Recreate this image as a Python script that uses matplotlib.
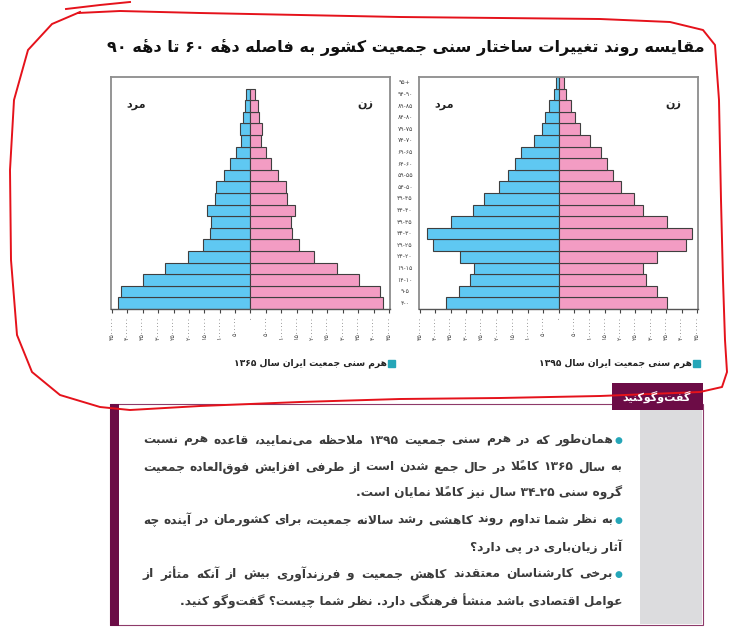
import numpy as np
import matplotlib
matplotlib.use("Agg")
import matplotlib.pyplot as plt
import matplotlib.transforms as mtransforms
from matplotlib.patches import Rectangle
from matplotlib.lines import Line2D

plt.rcParams['font.family'] = ['DejaVu Sans']

# ---------------- data ----------------
age_labels = ['۴-۰', '۹-۵', '۱۴-۱۰', '۱۹-۱۵', '۲۴-۲۰', '۲۹-۲۵', '۳۴-۳۰', '۳۹-۳۵',
              '۴۴-۴۰', '۴۹-۴۵', '۵۴-۵۰', '۵۹-۵۵', '۶۴-۶۰', '۶۹-۶۵', '۷۴-۷۰',
              '۷۹-۷۵', '۸۴-۸۰', '۸۹-۸۵', '۹۴-۹۰', '۹۵+']

# millions, from 0-4 upwards
male_1365 = [4.30, 4.19, 3.48, 2.78, 2.03, 1.55, 1.32, 1.27, 1.40, 1.16,
             1.11, 0.86, 0.65, 0.48, 0.32, 0.35, 0.25, 0.19, 0.13]
female_1365 = [4.31, 4.22, 3.51, 2.81, 2.05, 1.57, 1.34, 1.30, 1.43, 1.19,
               1.15, 0.90, 0.67, 0.51, 0.34, 0.38, 0.26, 0.23, 0.16]

male_1395 = [3.64, 3.24, 2.88, 2.73, 3.20, 4.07, 4.28, 3.50, 2.78, 2.42,
             1.94, 1.64, 1.42, 1.22, 0.80, 0.55, 0.44, 0.31, 0.15, 0.09]
female_1395 = [3.51, 3.19, 2.83, 2.75, 3.19, 4.13, 4.35, 3.51, 2.76, 2.46,
               2.04, 1.78, 1.58, 1.38, 1.03, 0.71, 0.53, 0.41, 0.24, 0.19]

x_ticks = np.arange(-4.5, 4.51, 0.5)

title = 'مقایسه روند تغییرات ساختار سنی جمعیت کشور به فاصله دههٔ ۶۰ تا دههٔ ۹۰'
caption_1365 = 'هرم سنی جمعیت ایران سال ۱۳۶۵'
caption_1395 = 'هرم سنی جمعیت ایران سال ۱۳۹۵'
box_tag = 'گفت‌وگوکنید'
# (text, has bullet, justified)
body_lines = [
    ('همان‌طور که در هرم سنی جمعیت ۱۳۹۵ ملاحظه می‌نمایید، قاعده هرم نسبت', True, True),
    ('به سال ۱۳۶۵ کاملاً در حال جمع شدن است از طرفی افزایش فوق‌العاده جمعیت', False, True),
    ('گروه سنی ۲۵ـ۳۴ سال نیز کاملاً نمایان است.', False, False),
    ('به نظر شما تداوم روند کاهشی رشد سالانه جمعیت، برای کشورمان در آینده چه', True, True),
    ('آثار زیان‌باری در پی دارد؟', False, False),
    ('برخی کارشناسان معتقدند کاهش جمعیت و فرزندآوری بیش از آنکه متأثر از', True, True),
    ('عوامل اقتصادی باشد منشأ فرهنگی دارد. نظر شما چیست؟ گفت‌وگو کنید.', False, False),
]

BLUE = '#5fc8f2'
PINK = '#f39cc3'
TEAL = '#25a6b8'
MAROON = '#6c0c46'

# ---------------- simple persian shaping ----------------
_forms = [('ء', 0xFE80, 1), ('آ', 0xFE81, 2), ('أ', 0xFE83, 2), ('ؤ', 0xFE85, 2),
          ('إ', 0xFE87, 2), ('ئ', 0xFE89, 4), ('ا', 0xFE8D, 2), ('ب', 0xFE8F, 4),
          ('ة', 0xFE93, 2), ('ت', 0xFE95, 4), ('ث', 0xFE99, 4), ('ج', 0xFE9D, 4),
          ('ح', 0xFEA1, 4), ('خ', 0xFEA5, 4), ('د', 0xFEA9, 2), ('ذ', 0xFEAB, 2),
          ('ر', 0xFEAD, 2), ('ز', 0xFEAF, 2), ('س', 0xFEB1, 4), ('ش', 0xFEB5, 4),
          ('ص', 0xFEB9, 4), ('ض', 0xFEBD, 4), ('ط', 0xFEC1, 4), ('ظ', 0xFEC5, 4),
          ('ع', 0xFEC9, 4), ('غ', 0xFECD, 4), ('ف', 0xFED1, 4), ('ق', 0xFED5, 4),
          ('ك', 0xFED9, 4), ('ل', 0xFEDD, 4), ('م', 0xFEE1, 4), ('ن', 0xFEE5, 4),
          ('ه', 0xFEE9, 4), ('و', 0xFEED, 2), ('ى', 0xFEEF, 2), ('ي', 0xFEF1, 4),
          ('پ', 0xFB56, 4), ('چ', 0xFB7A, 4), ('ژ', 0xFB8A, 2), ('ک', 0xFB8E, 4),
          ('گ', 0xFB92, 4), ('ی', 0xFBFC, 4)]
FORMS = {c: [chr(s + i) for i in range(n)] for c, s, n in _forms}
LAM_ALEF = {'آ': '\uFEF5', 'أ': '\uFEF7', 'إ': '\uFEF9', 'ا': '\uFEFB'}
MARKS = set('\u064b\u064c\u064d\u064e\u064f\u0650\u0651\u0652\u0654\u0670')
DIGITS = set('۰۱۲۳۴۵۶۷۸۹0123456789')


def shape(text):
    ch = list(text)
    n = len(ch)

    def neighbour(i, step):
        j = i + step
        while 0 <= j < n and ch[j] in MARKS:
            j += step
        return ch[j] if 0 <= j < n else None

    out = []
    i = 0
    while i < n:
        c = ch[i]
        if c not in FORMS:
            if c != '\u200c':
                out.append(c)
            i += 1
            continue
        prev = neighbour(i, -1)
        nxt = neighbour(i, 1)
        jp = prev in FORMS and len(FORMS[prev]) == 4
        if c == 'ل' and i + 1 < n and ch[i + 1] in LAM_ALEF:
            base = ord(LAM_ALEF[ch[i + 1]])
            out.append(chr(base + 1) if jp else chr(base))
            i += 2
            continue
        jn = len(FORMS[c]) == 4 and nxt in FORMS and nxt != 'ء'
        if jp and jn:
            k = 3
        elif jp:
            k = 1
        elif jn:
            k = 2
        else:
            k = 0
        out.append(FORMS[c][k])
        i += 1

    # visual order: reverse clusters, keep numbers left to right
    clusters = []
    for c in out:
        if c in MARKS and clusters:
            clusters[-1] += c
        else:
            clusters.append(c)
    clusters.reverse()
    res, run = [], []
    for c in clusters:
        if c[0] in DIGITS:
            run.append(c)
        else:
            res.extend(reversed(run))
            run = []
            res.append(c)
    res.extend(reversed(run))
    return ''.join(res)


def fa(num):
    return str(num).translate(str.maketrans('0123456789', '۰۱۲۳۴۵۶۷۸۹'))


W, H = 742, 638


def fx(x):
    return x / W


def fy(y):
    return 1 - y / H


fig = plt.figure(figsize=(W / 100, H / 100), dpi=100)
fig.patch.set_facecolor('white')

# ---------------- pyramids ----------------
tick_labels = [fa(int(round(abs(v) * 1e6))) for v in x_ticks]


def pyramid(ax, male, female):
    y = np.arange(len(male))
    ax.barh(y, -np.array(male), height=1.0, color=BLUE, edgecolor='#3f3f3f', linewidth=0.8)
    ax.barh(y, np.array(female), height=1.0, color=PINK, edgecolor='#3f3f3f', linewidth=0.8)
    ax.set_xlim(-4.53, 4.53)
    ax.set_ylim(-0.5, len(age_labels) - 0.5)
    ax.set_yticks([])
    ax.set_xticks(x_ticks)
    ax.set_xticklabels(tick_labels, rotation=90, fontsize=4.6, color='#444444')
    ax.tick_params(axis='x', direction='out', length=3, width=0.8, color='#444444', pad=2)
    for s in ['top', 'left', 'right']:
        ax.spines[s].set_color('#8c8c8c')
        ax.spines[s].set_linewidth(1.3)
    ax.spines['bottom'].set_color('#555555')
    ax.spines['bottom'].set_linewidth(1.0)
    ax.text(0.09, 0.88, shape('مرد'), transform=ax.transAxes, ha='center', va='center',
            fontsize=8, fontweight='bold', color='#222222')
    ax.text(0.91, 0.88, shape('زن'), transform=ax.transAxes, ha='center', va='center',
            fontsize=8, fontweight='bold', color='#222222')


axL = fig.add_axes([fx(111), fy(309), 279 / W, 232 / H])
axR = fig.add_axes([fx(419), fy(309), 279 / W, 232 / H])
pyramid(axL, male_1365, female_1365)
pyramid(axR, male_1395, female_1395)

tr = mtransforms.blended_transform_factory(fig.transFigure, axL.transData)
for i, lab in enumerate(age_labels):
    fig.text(fx(405), i, lab, transform=tr, ha='center', va='center',
             fontsize=4.4, color='#444444')

# captions with teal squares
for x_right, cap in [(387, caption_1365), (692, caption_1395)]:
    fig.text(fx(x_right), fy(363), shape(cap), ha='right', va='center',
             fontsize=6.6, fontweight='bold', color='#222222')
    fig.patches.append(Rectangle((fx(x_right + 1), fy(367)), 7 / W, 7 / H,
                                 transform=fig.transFigure, color=TEAL))

# title
fig.text(fx(705), fy(47), shape(title), ha='right', va='center',
         fontsize=11.6, fontweight='bold', color='#111111')

# ---------------- discussion box ----------------
fig.patches.append(Rectangle((fx(110), fy(625)), 593 / W, 221 / H, transform=fig.transFigure,
                             facecolor='white', edgecolor='#8e3a6a', linewidth=0.8))
fig.patches.append(Rectangle((fx(640), fy(624)), 62 / W, 214 / H, transform=fig.transFigure,
                             facecolor='#dcdcde', edgecolor='none'))
fig.patches.append(Rectangle((fx(110), fy(626)), 9 / W, 222 / H, transform=fig.transFigure,
                             facecolor=MAROON, edgecolor='none'))
fig.patches.append(Rectangle((fx(612), fy(410)), 91 / W, 27 / H, transform=fig.transFigure,
                             facecolor=MAROON, edgecolor='none'))
fig.text(fx(657), fy(397), shape(box_tag), ha='center', va='center', fontsize=8,
         fontweight='bold', color='white')

renderer = fig.canvas.get_renderer()
line_y = [440, 467, 493, 520, 547, 574, 601]
x_right_txt, x_left_txt = 622, 143
for (txt, bullet, justify), yy in zip(body_lines, line_y):
    right = x_right_txt
    if bullet:
        fig.text(fx(right), fy(yy), '●', ha='right', va='center', fontsize=6.5, color=TEAL)
        right -= 9
    kw = dict(va='center', fontsize=8.8, fontweight='bold', color='#3b3b3b')
    if not justify:
        fig.text(fx(right), fy(yy), shape(txt), ha='right', **kw)
        continue
    words = [shape(w) for w in txt.split(' ')]
    arts = [fig.text(0, fy(yy), w, ha='left', **kw) for w in words]
    widths = [a.get_window_extent(renderer).width for a in arts]
    gap = max((right - x_left_txt - sum(widths)) / (len(words) - 1), 2.0)
    x = right
    for a, w in zip(arts, widths):
        x -= w
        a.set_x(fx(x))
        x -= gap

# ---------------- red hand drawn outline ----------------
loop = [(78, 13), (120, 11), (200, 13), (300, 15), (400, 17), (500, 18), (600, 19),
        (670, 22), (703, 30), (715, 45), (719, 100), (721, 200), (723, 280), (725, 340),
        (727, 372), (722, 387), (700, 392), (600, 396), (500, 398), (400, 399), (300, 402),
        (200, 406), (130, 410), (100, 407), (60, 395), (32, 372), (17, 335), (11, 260),
        (10, 170), (14, 100), (28, 50), (52, 24), (80, 12)]
stroke = [(66, 9), (100, 5), (130, 2)]
for pts in [loop, stroke]:
    xs = [fx(p[0]) for p in pts]
    ys = [fy(p[1]) for p in pts]
    fig.lines.append(Line2D(xs, ys, transform=fig.transFigure, color='#e5121b',
                            linewidth=1.4, solid_joinstyle='round'))

fig.savefig('out.png', dpi=100)
